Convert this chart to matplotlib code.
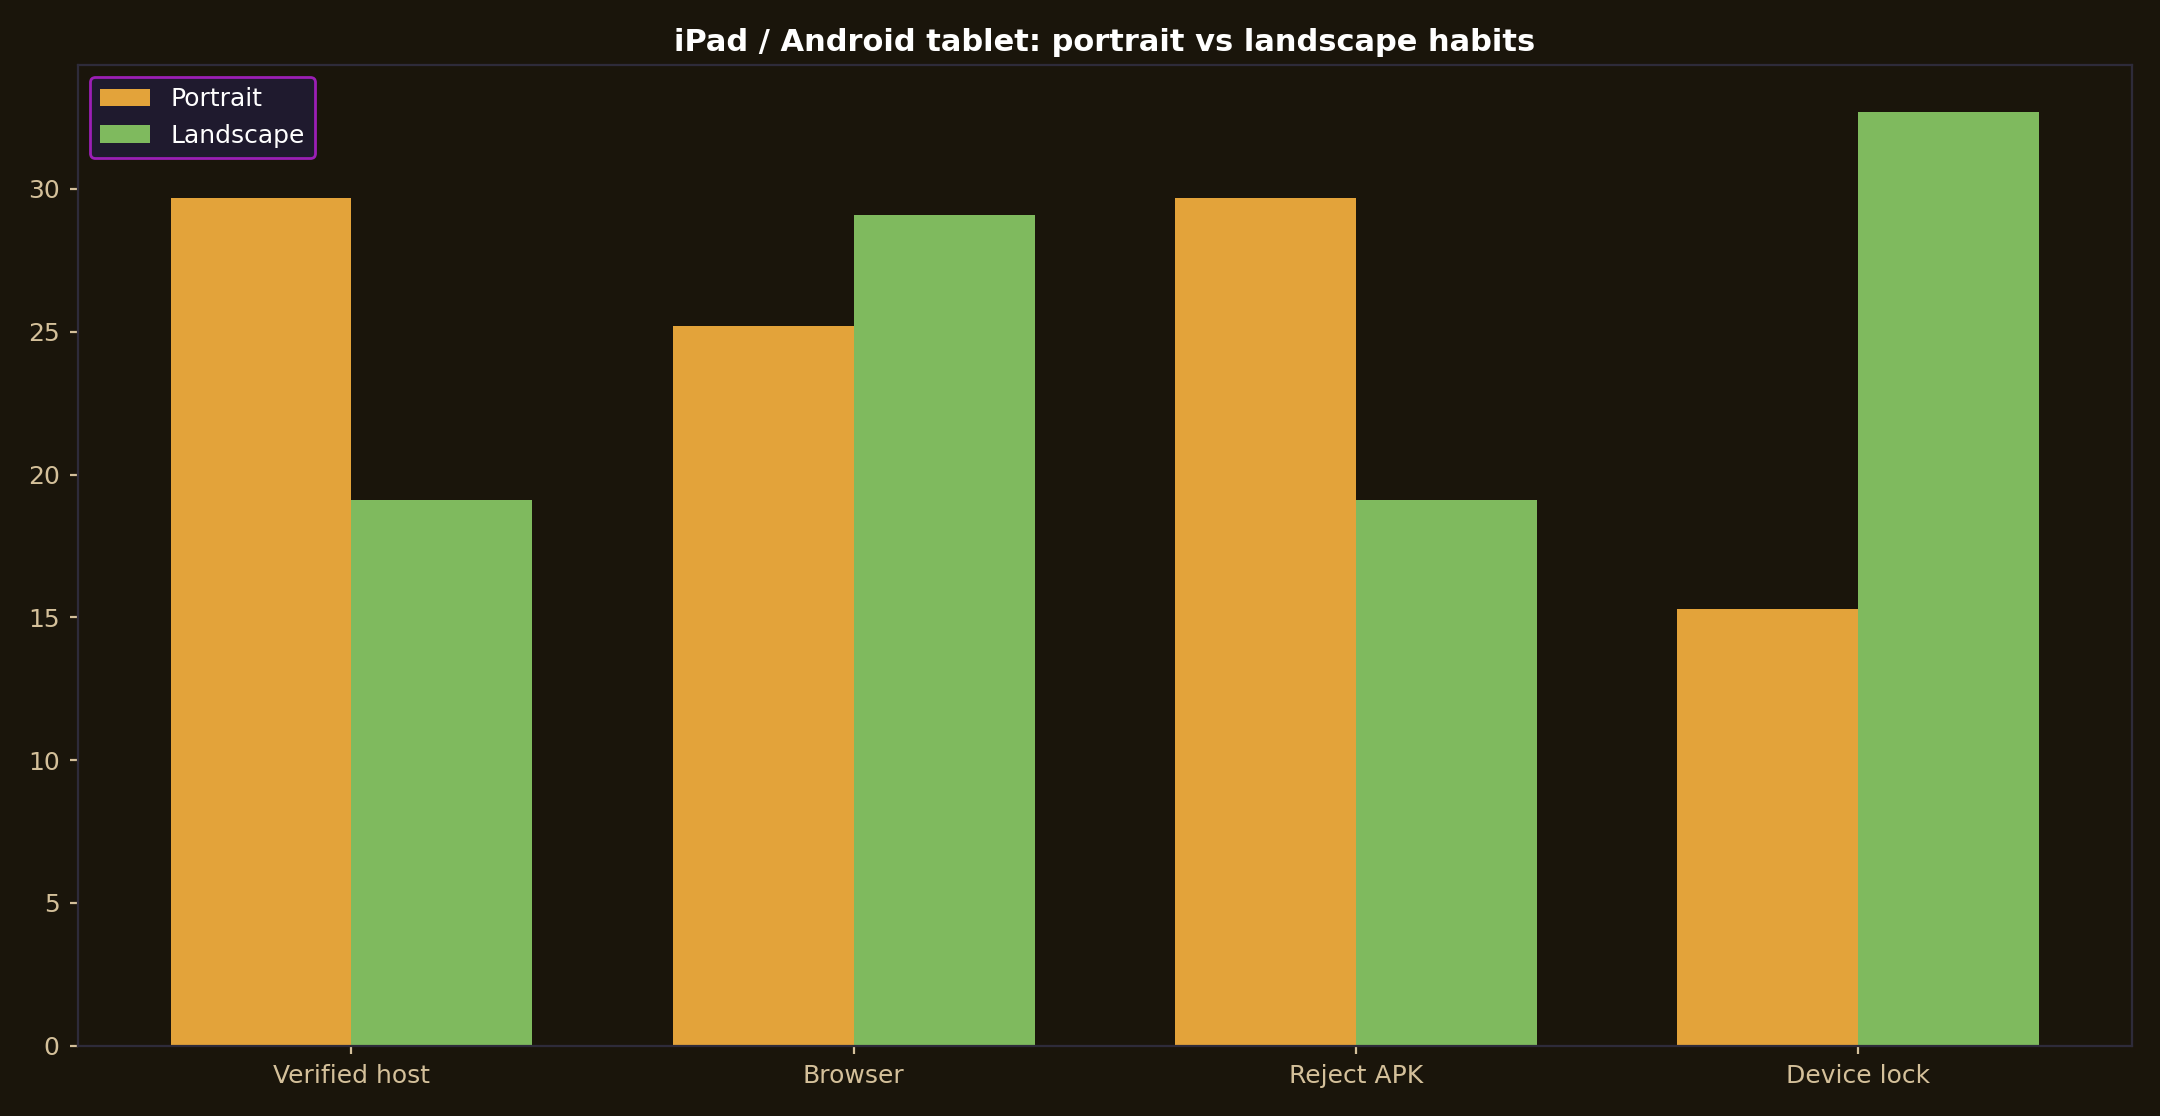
import numpy as np
import matplotlib.pyplot as plt

categories = ["Verified host", "Browser", "Reject APK", "Device lock"]
portrait = [29.7, 25.2, 29.7, 15.3]
landscape = [19.1, 29.1, 19.1, 32.7]

bg = "#1a150b"
fig = plt.figure(figsize=(10.8, 5.58), dpi=200, facecolor=bg)
ax = fig.add_axes([0.036, 0.063, 0.951, 0.879], facecolor=bg)

x = np.arange(len(categories))
w = 0.36
ax.bar(x - w / 2, portrait, w, color="#e3a33a", label="Portrait")
ax.bar(x + w / 2, landscape, w, color="#7fba5e", label="Landscape")

ax.set_xticks(x)
ax.set_xticklabels(categories)
ax.set_xlim(-0.545, 3.545)
ax.set_ylim(0, 34.35)
ax.tick_params(colors="#d4c09a", labelsize=9, length=3)
for s in ax.spines.values():
    s.set_color("#2e2b3a")

ax.set_title("iPad / Android tablet: portrait vs landscape habits",
             color="white", fontsize=11, fontweight="bold", pad=5)
leg = ax.legend(loc="upper left", facecolor="#1f1a2e", edgecolor="#9b1fb5",
                fontsize=9, framealpha=1, labelcolor="white")

fig.savefig("out.png", dpi=200, facecolor=bg)
